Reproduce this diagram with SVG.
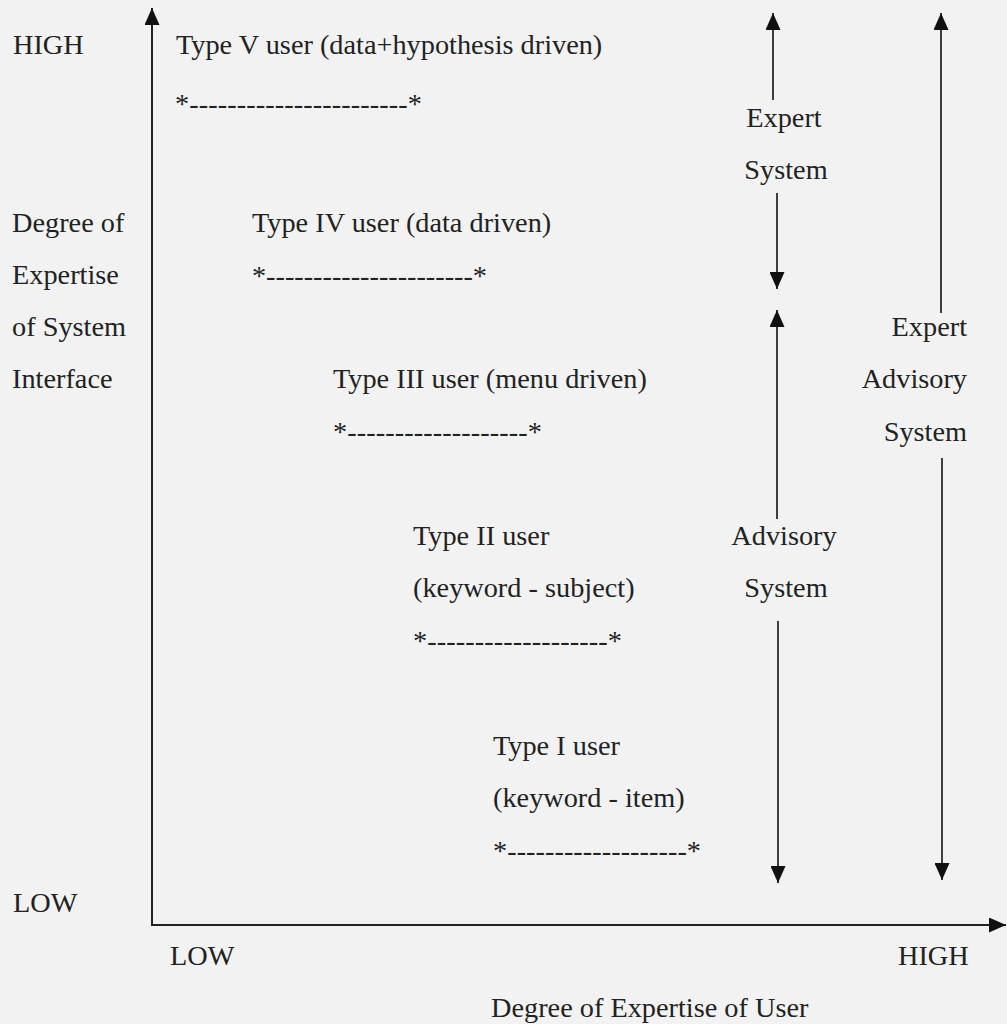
<svg xmlns="http://www.w3.org/2000/svg" width="1007" height="1024" viewBox="0 0 1007 1024">
  <style>
    text { font-family: "Liberation Serif", "Times New Roman", serif; font-size: 28.3px; fill: #222; }
    .mid { text-anchor: middle; }
    .end { text-anchor: end; }
    .ax { stroke: #222; stroke-width: 2; fill: none; }
    .ar { stroke: #2a2a2a; stroke-width: 1.8; fill: none; }
  </style>
  <defs>
    <marker id="head" viewBox="0 0 17 15" refX="17" refY="7.5" markerWidth="17" markerHeight="15" markerUnits="userSpaceOnUse" orient="auto">
      <path d="M0,0 L17,7.5 L0,15 Z" fill="#111"/>
    </marker>
  </defs>
  <rect width="1007" height="1024" fill="#f2f2f2"/>

  <!-- axes -->
  <g id="axes">
    <line class="ax" x1="152" y1="925" x2="152" y2="8" marker-end="url(#head)"/>
    <line class="ax" x1="151" y1="925" x2="1006" y2="925" marker-end="url(#head)"/>
  </g>

  <!-- axis labels -->
  <g id="y-axis-labels">
    <text x="13" y="54">HIGH</text>
    <text x="12" y="232">Degree of</text>
    <text x="12" y="284">Expertise</text>
    <text x="12" y="336">of System</text>
    <text x="12" y="388">Interface</text>
    <text x="13" y="912">LOW</text>
  </g>
  <g id="x-axis-labels">
    <text x="170" y="965">LOW</text>
    <text x="898" y="965">HIGH</text>
    <text x="491" y="1017">Degree of Expertise of User</text>
  </g>

  <!-- user types -->
  <g id="type5">
    <text x="176" y="54">Type V user (data+hypothesis driven)</text>
    <text x="175" y="113" textLength="247" lengthAdjust="spacing">*-----------------------*</text>
  </g>
  <g id="type4">
    <text x="252" y="232">Type IV user (data driven)</text>
    <text x="252" y="285" textLength="235" lengthAdjust="spacing">*----------------------*</text>
  </g>
  <g id="type3">
    <text x="333" y="388">Type III user (menu driven)</text>
    <text x="333" y="441" textLength="209" lengthAdjust="spacing">*-------------------*</text>
  </g>
  <g id="type2">
    <text x="413" y="545">Type II user</text>
    <text x="413" y="597">(keyword - subject)</text>
    <text x="413" y="650" textLength="209" lengthAdjust="spacing">*-------------------*</text>
  </g>
  <g id="type1">
    <text x="493" y="755">Type I user</text>
    <text x="493" y="807">(keyword - item)</text>
    <text x="493" y="860" textLength="208" lengthAdjust="spacing">*-------------------*</text>
  </g>

  <!-- system range labels -->
  <g id="expert-system">
    <text class="mid" x="784" y="127">Expert</text>
    <text class="mid" x="786" y="179">System</text>
  </g>
  <g id="advisory-system">
    <text class="mid" x="784" y="545">Advisory</text>
    <text class="mid" x="786" y="597">System</text>
  </g>
  <g id="expert-advisory-system">
    <text class="end" x="967" y="336">Expert</text>
    <text class="end" x="967" y="388">Advisory</text>
    <text class="end" x="967" y="441">System</text>
  </g>

  <!-- range arrows -->
  <g id="connectors">
    <line class="ar" x1="773" y1="100" x2="773" y2="13" marker-end="url(#head)"/>
    <line class="ar" x1="777" y1="193" x2="777" y2="289" marker-end="url(#head)"/>
    <line class="ar" x1="777" y1="519" x2="777" y2="310" marker-end="url(#head)"/>
    <line class="ar" x1="778" y1="621" x2="778" y2="883" marker-end="url(#head)"/>
    <line class="ar" x1="941" y1="313" x2="941" y2="13" marker-end="url(#head)"/>
    <line class="ar" x1="942" y1="458" x2="942" y2="880" marker-end="url(#head)"/>
  </g>
</svg>
